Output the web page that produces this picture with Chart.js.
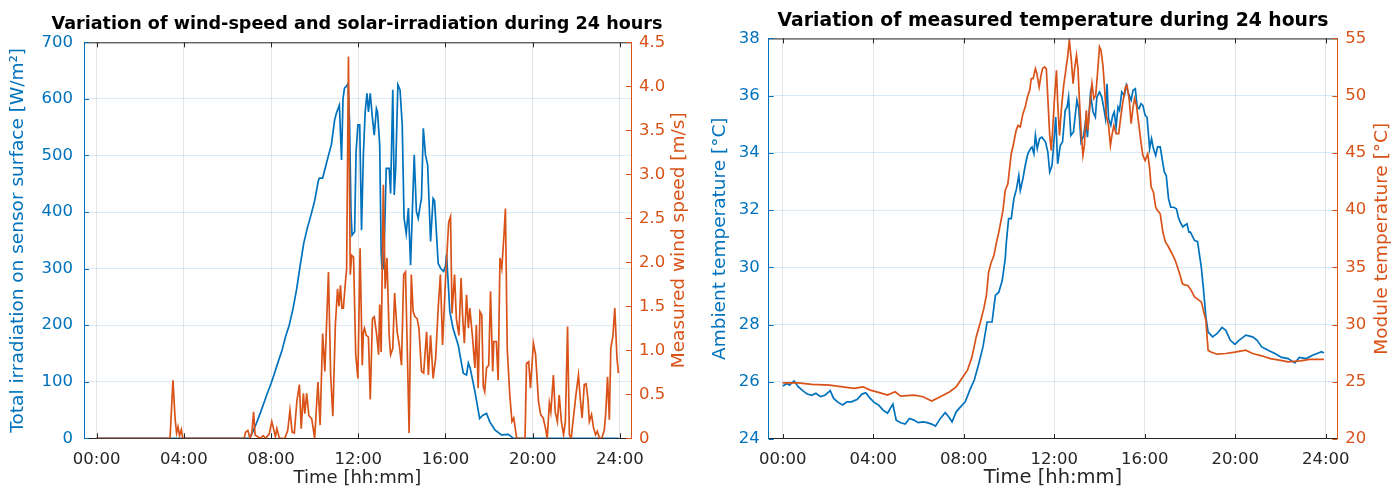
<!DOCTYPE html>
<html>
<head>
<meta charset="utf-8">
<title>24 hour measurements</title>
<script src="https://cdn.jsdelivr.net/npm/chart.js@4.4.1/dist/chart.umd.min.js"></script>
<style>
    html, body { margin: 0; padding: 0; background: #ffffff; }
    #wrap { position: relative; width: 1398px; height: 493px; overflow: hidden; }
    #windChart { position: absolute; left: 0; top: 0; }
    #tempChart { position: absolute; left: 708px; top: 0; }
</style>
</head>
<body>
<div id="wrap">
    <canvas id="windChart" width="714" height="493"></canvas>
    <canvas id="tempChart" width="690" height="493"></canvas>
</div>
<script>
// ===== DATA: IRRADIATION & WIND SPEED =====
const irrTimes = ['00:00','07:00','07:10','07:20','07:30','07:40','07:50','08:00','08:10','08:20',
    '08:30','08:40','08:50','09:00','09:10','09:20','09:30','09:40','09:50','10:00',
    '10:10','10:13','10:22','10:30','10:40','10:46','10:55','11:00','11:08','11:14',
    '11:18','11:22','11:27','11:32','11:36','11:40','11:43','11:50','11:54','11:59',
    '12:04','12:09','12:14','12:19','12:24','12:28','12:33','12:39','12:44','12:50',
    '12:53','12:59','13:03','13:05','13:10','13:17','13:25','13:29','13:35','13:39',
    '13:43','13:49','13:55','14:01','14:06','14:12','14:18','14:24','14:34','14:40',
    '14:45','14:50','14:54','14:59','15:05','15:11','15:19','15:26','15:30','15:40',
    '15:47','15:55','16:00','16:03','16:12','16:21','16:35','16:49','16:58','17:03',
    '17:08','17:21','17:34','17:43','17:53','18:02','18:16','18:34','18:53','19:07',
    '23:56'];
const irradiation = [0, 0, 12, 27, 44, 62, 80, 97, 116, 136,
    155, 180, 200, 228, 262, 305, 345, 372, 395, 420,
    455, 460, 460, 480, 505, 519, 563, 575, 589, 492,
    600, 619, 622, 627, 560, 400, 359, 365, 507, 554,
    554, 368, 500, 577, 610, 577, 610, 566, 536, 583,
    577, 519, 330, 300, 300, 477, 477, 433, 616, 430,
    477, 625, 616, 554, 389, 362, 407, 306, 501, 401,
    389, 410, 424, 548, 501, 483, 348, 424, 420, 309,
    300, 295, 305, 325, 224, 194, 165, 115, 112, 133,
    124, 83, 35, 41, 44, 29, 15, 6, 7, 0,
    0];

const windTimes = ['00:00','03:22','03:30','03:36','03:40','03:44','03:48','03:53','03:57','06:46',
    '06:50','06:56','07:02','07:07','07:12','07:16','07:22','07:30','07:38','07:45',
    '07:55','08:02','08:08','08:12','08:16','08:23','08:38','08:46','08:52','08:58',
    '09:04','09:11','09:18','09:23','09:29','09:33','09:38','09:44','09:52','10:00',
    '10:09','10:15','10:22','10:28','10:38','10:44','10:50','10:57','11:03','11:07',
    '11:11','11:15','11:19','11:24','11:28','11:33','11:38','11:42','11:47','11:53',
    '11:59','12:05','12:11','12:14','12:17','12:22','12:28','12:33','12:39','12:44',
    '12:51','12:56','12:59','13:03','13:09','13:14','13:19','13:25','13:29','13:35',
    '13:40','13:47','13:53','13:59','14:05','14:10','14:14','14:20','14:26','14:31',
    '14:36','14:42','14:47','14:54','15:00','15:08','15:13','15:19','15:26','15:33',
    '15:40','15:46','15:52','16:00','16:09','16:14','16:18','16:25','16:30','16:37',
    '16:43','16:47','16:52','16:58','17:03','17:07','17:14','17:21','17:25','17:30',
    '17:35','17:40','17:44','17:48','17:53','17:59','18:04','18:10','18:13','18:20',
    '18:25','18:30','18:35','18:41','18:45','18:50','18:57','19:03','19:08','19:16',
    '19:39','19:43','19:49','19:54','20:02','20:08','20:16','20:22','20:29','20:35',
    '20:40','20:46','20:50','20:57','21:02','21:08','21:13','21:19','21:25','21:30',
    '21:36','21:41','21:46','21:52','21:59','22:06','22:11','22:16','22:22','22:27',
    '22:32','22:36','22:42','22:47','22:53','22:58','23:04','23:10','23:17','23:21',
    '23:26','23:31','23:35','23:41','23:46','23:52','23:56'];
const windSpeed = [0, 0, 0.66, 0.22, 0.06, 0.13, 0.03, 0.10, 0, 0,
    0.07, 0.09, 0, 0.05, 0.30, 0.04, 0.02, 0, 0.03, 0,
    0.05, 0.19, 0.09, 0.02, 0.11, 0, 0, 0.09, 0.32, 0.07,
    0.06, 0.42, 0.61, 0.11, 0.51, 0.28, 0.51, 0.26, 0.22, 0,
    0.64, 0.15, 1.19, 0.76, 1.89, 0.72, 0.25, 1.29, 1.70, 1.50,
    1.74, 1.48, 1.48, 1.74, 1.93, 4.34, 1.86, 2.08, 2.06, 0.95,
    0.68, 2.16, 0.83, 1.20, 1.25, 1.17, 1.15, 0.44, 1.36, 1.38,
    1.17, 0.95, 1.52, 0.98, 2.88, 1.70, 2.05, 1.17, 0.95, 1.02,
    1.65, 1.21, 1.06, 0.83, 1.86, 1.89, 1.17, 0.06, 1.86, 1.44,
    1.38, 1.36, 1.25, 0.76, 0.74, 1.21, 0.72, 1.17, 0.68, 0.91,
    1.48, 1.86, 1.06, 1.80, 2.46, 2.52, 1.42, 1.86, 1.36, 1.17,
    1.82, 1.40, 1.08, 1.63, 1.25, 1.48, 1.17, 0.80, 1.29, 0.57,
    1.44, 1.40, 0.59, 0.53, 0.80, 0.83, 1.67, 0.76, 1.10, 1.10,
    0.66, 2.05, 1.93, 2.31, 2.61, 1.02, 0.49, 0.19, 0.23, 0,
    0, 0.85, 0.87, 0.57, 1.08, 0.95, 0.42, 0.27, 0.23, 0.12,
    0, 0.40, 0.30, 0.72, 0.30, 0.19, 0.49, 0.19, 0.04, 0.19,
    1.27, 0.04, 0, 0.23, 0.49, 0.72, 0.45, 0.23, 0.61, 0.62,
    0.45, 0.19, 0.27, 0.13, 0.04, 0.08, 0, 0, 0.09, 0.28,
    0.70, 0.21, 1.02, 1.17, 1.48, 0.91, 0.74];

// ===== DATA: AMBIENT & MODULE TEMPERATURE =====
const ambTimes = ['00:00','00:12','00:18','00:30','00:41','00:53','01:05','01:17','01:28','01:40',
    '01:52','02:06','02:15','02:27','02:39','02:50','03:02','03:17','03:30','03:40',
    '03:52','04:03','04:14','04:26','04:38','04:52','05:01','05:13','05:25','05:36',
    '05:48','05:59','06:12','06:23','06:35','06:45','06:58','07:11','07:20','07:29',
    '07:40','07:52','08:04','08:16','08:28','08:40','08:51','09:02','09:15','09:24',
    '09:33','09:42','09:50','09:53','09:59','10:06','10:13','10:20','10:26','10:30',
    '10:37','10:43','10:50','10:57','11:01','11:06','11:10','11:15','11:21','11:27',
    '11:37','11:43','11:48','11:54','11:59','12:04','12:09','12:16','12:22','12:29',
    '12:34','12:38','12:44','12:51','13:00','13:05','13:11','13:18','13:24','13:28',
    '13:36','13:43','13:49','13:53','14:00','14:06','14:11','14:16','14:20','14:24',
    '14:30','14:35','14:39','14:44','14:49','14:53','14:59','15:06','15:11','15:17',
    '15:24','15:29','15:35','15:40','15:45','15:50','15:55','16:01','16:06','16:13',
    '16:18','16:23','16:29','16:34','16:41','16:46','16:52','16:57','17:03','17:09',
    '17:17','17:24','17:29','17:34','17:41','17:46','17:52','17:57','18:01','18:12',
    '18:20','18:30','18:36','18:42','18:48','19:00','19:12','19:25','19:35','19:47',
    '19:59','20:10','20:28','20:46','20:58','21:10','21:27','21:45','22:03','22:20',
    '22:38','22:50','23:08','23:25','23:37','23:49','23:55'];
const ambientTemp = [25.85, 25.94, 25.88, 26.03, 25.83, 25.69, 25.57, 25.53, 25.60, 25.48,
    25.53, 25.69, 25.42, 25.28, 25.19, 25.30, 25.30, 25.38, 25.57, 25.62,
    25.42, 25.27, 25.19, 25.01, 24.90, 25.22, 24.66, 24.57, 24.52, 24.72,
    24.66, 24.57, 24.60, 24.57, 24.52, 24.45, 24.72, 24.92, 24.78, 24.60,
    24.95, 25.13, 25.30, 25.71, 26.06, 26.64, 27.22, 28.09, 28.09, 29.02,
    29.13, 29.54, 30.30, 30.88, 31.70, 31.70, 32.40, 32.75, 33.21, 32.69,
    33.10, 33.56, 33.97, 34.15, 34.21, 33.97, 34.61, 34.15, 34.50, 34.55,
    34.38, 34.03, 33.33, 33.56, 34.38, 35.25, 33.62, 34.26, 34.38, 35.49,
    35.60, 35.95, 34.61, 34.73, 35.84, 35.55, 34.38, 34.61, 35.20, 34.55,
    36.07, 35.43, 35.25, 35.95, 36.13, 35.95, 35.60, 35.20, 36.42, 35.20,
    34.96, 35.31, 35.43, 34.90, 35.60, 35.49, 36.13, 36.01, 36.36, 36.07,
    35.84, 36.19, 36.24, 35.60, 35.55, 35.72, 35.66, 35.31, 35.25, 34.15,
    34.50, 34.15, 33.91, 34.21, 34.21, 33.80, 33.33, 33.21, 32.40, 32.10,
    32.10, 32.05, 31.76, 31.58, 31.41, 31.47, 31.52, 31.23, 31.23, 30.94,
    30.90, 30.00, 29.20, 28.27, 27.74, 27.57, 27.69, 27.90, 27.80, 27.45,
    27.31, 27.45, 27.63, 27.57, 27.45, 27.22, 27.10, 26.99, 26.85, 26.81,
    26.66, 26.85, 26.81, 26.93, 26.99, 27.05, 27.01];

const modTimes = ['00:00','00:41','01:17','02:04','02:39','03:09','03:33','03:52','04:14','04:38',
    '04:58','05:13','05:48','06:12','06:35','06:58','07:23','07:40','07:58','08:10',
    '08:22','08:33','08:44','08:53','09:00','09:06','09:13','09:20','09:27','09:33',
    '09:39','09:44','09:50','09:57','10:02','10:06','10:12','10:19','10:24','10:30',
    '10:37','10:43','10:49','10:55','10:59','11:04','11:10','11:14','11:20','11:25',
    '11:29','11:34','11:39','11:44','11:48','11:52','11:56','12:00','12:06','12:09',
    '12:14','12:19','12:25','12:30','12:36','12:40','12:45','12:50','12:54','12:59',
    '13:03','13:07','13:12','13:16','13:20','13:25','13:29','13:34','13:40','13:45',
    '13:50','13:55','14:00','14:04','14:09','14:13','14:18','14:24','14:29','14:33',
    '14:38','14:44','14:51','14:57','15:02','15:09','15:13','15:19','15:24','15:29',
    '15:33','15:38','15:44','15:50','15:55','16:01','16:08','16:13','16:17','16:23',
    '16:29','16:34','16:41','16:48','16:55','17:01','17:08','17:15','17:21','17:27',
    '17:34','17:40','17:46','17:54','18:01','18:12','18:30','18:42','18:48','18:54',
    '19:12','19:35','19:59','20:28','20:46','21:10','21:33','21:57','22:20','22:53',
    '23:17','23:55'];
const moduleTemp = [24.91, 24.91, 24.77, 24.71, 24.56, 24.42, 24.56, 24.27, 24.07, 23.84,
    24.13, 23.75, 23.84, 23.69, 23.31, 23.69, 24.13, 24.56, 25.44, 26.02,
    27.18, 28.92, 30.20, 31.37, 32.54, 34.58, 35.45, 36.03, 37.20, 38.08,
    39.10, 39.97, 41.72, 42.30, 43.76, 44.93, 45.80, 46.97, 47.40, 47.26,
    48.43, 49.00, 49.88, 50.47, 51.49, 51.49, 52.36, 51.92, 50.76, 51.78,
    52.36, 52.51, 52.36, 49.15, 46.53, 45.22, 47.11, 49.45, 52.22, 49.45,
    46.53, 48.86, 50.90, 52.07, 53.53, 54.84, 53.24, 51.05, 52.36, 53.53,
    52.36, 49.45, 46.53, 44.78, 45.66, 48.72, 46.97, 49.01, 51.05, 49.74,
    50.03, 52.07, 54.26, 53.97, 52.65, 50.90, 48.28, 47.40, 45.66, 46.53,
    47.40, 46.68, 46.68, 48.28, 49.45, 50.76, 50.90, 49.59, 47.55, 49.01,
    49.74, 49.15, 47.55, 45.95, 44.78, 44.34, 44.93, 43.62, 42.01, 41.57,
    40.26, 39.97, 39.68, 38.08, 37.20, 36.91, 36.47, 36.03, 35.60, 35.01,
    34.29, 33.56, 33.47, 33.41, 33.12, 32.41, 31.98, 30.38, 27.76, 27.62,
    27.41, 27.47, 27.59, 27.76, 27.47, 27.27, 27.03, 26.89, 26.74, 26.83,
    26.95, 26.95];

// x axis ticks, in hours
const hourTicks = [0, 4, 8, 12, 16, 20, 24];

// ===== STYLE =====
const FONT = "'DejaVu Sans', sans-serif";
const BLUE = '#0072BD';
const ORANGE = '#D95319';
const INK = '#262626';

// ===== HELPERS =====
function toHours(t) {
    const [h, m] = t.split(':').map(Number);
    return h + m / 60;
}

function toPoints(times, values) {
    return times.map((t, i) => ({ x: toHours(t), y: values[i] }));
}

function hourLabel(v) {
    return String(v).padStart(2, '0') + ':00';
}

// box top edge, inward tick marks and the right-hand axis label (reads upward)
const axesFrame = {
    id: 'axesFrame',
    afterDatasetsDraw(chart, args, opts) {
        const { ctx, chartArea: a, scales } = chart;
        const len = 5;
        ctx.save();
        ctx.lineWidth = 1;

        ctx.strokeStyle = INK;
        ctx.beginPath();
        ctx.moveTo(a.left, a.top + 0.5);
        ctx.lineTo(a.right, a.top + 0.5);
        scales.x.ticks.forEach((t, i) => {
            const px = Math.round(scales.x.getPixelForTick(i)) + 0.5;
            ctx.moveTo(px, a.bottom);
            ctx.lineTo(px, a.bottom - len);
            ctx.moveTo(px, a.top);
            ctx.lineTo(px, a.top + len);
        });
        ctx.stroke();

        ctx.strokeStyle = BLUE;
        ctx.beginPath();
        scales.y.ticks.forEach((t, i) => {
            const py = Math.round(scales.y.getPixelForTick(i)) + 0.5;
            ctx.moveTo(a.left, py);
            ctx.lineTo(a.left + len, py);
        });
        ctx.stroke();

        ctx.strokeStyle = ORANGE;
        ctx.beginPath();
        scales.y1.ticks.forEach((t, i) => {
            const py = Math.round(scales.y1.getPixelForTick(i)) + 0.5;
            ctx.moveTo(a.right, py);
            ctx.lineTo(a.right - len, py);
        });
        ctx.stroke();

        ctx.fillStyle = ORANGE;
        ctx.font = opts.size + 'px ' + FONT;
        ctx.textAlign = 'center';
        ctx.textBaseline = 'middle';
        ctx.translate(opts.x, (a.top + a.bottom) / 2);
        ctx.rotate(-Math.PI / 2);
        ctx.fillText(opts.text, 0, 0);
        ctx.restore();
    }
};

// shared scale setup; sizes fix the plot box inside each canvas
function buildOptions(cfg) {
    return {
        responsive: false,
        animation: false,
        events: [],
        layout: { padding: 0 },
        plugins: {
            legend: { display: false },
            tooltip: { enabled: false },
            title: {
                display: true,
                text: cfg.title,
                color: '#000000',
                font: { family: FONT, size: cfg.titleSize, weight: 'bold' },
                padding: { top: cfg.titleTop, bottom: cfg.titleBottom }
            },
            axesFrame: cfg.rightLabel
        },
        scales: {
            x: {
                type: 'linear',
                min: cfg.xMin,
                max: cfg.xMax,
                afterBuildTicks: s => { s.ticks = hourTicks.map(v => ({ value: v })); },
                afterFit: s => { s.height = cfg.xHeight; },
                ticks: {
                    color: INK,
                    font: { family: FONT, size: 16.5 },
                    padding: cfg.xTickPad,
                    maxRotation: 0,
                    callback: v => hourLabel(v)
                },
                grid: { color: 'rgba(38,38,38,0.12)', lineWidth: 1, drawTicks: false },
                border: { color: INK, width: 1 },
                title: {
                    display: true,
                    text: 'Time [hh:mm]',
                    color: INK,
                    font: { family: FONT, size: cfg.xLabelSize },
                    padding: { top: 0, bottom: cfg.xTitlePad }
                }
            },
            y: {
                position: 'left',
                min: cfg.yMin,
                max: cfg.yMax,
                afterFit: s => { s.width = cfg.yWidth; },
                ticks: {
                    stepSize: cfg.yStep,
                    color: BLUE,
                    font: { family: FONT, size: 16.5 },
                    padding: cfg.yTickPad
                },
                grid: { color: 'rgba(0,114,189,0.14)', lineWidth: 1, drawTicks: false },
                border: { color: BLUE, width: 1 },
                title: {
                    display: true,
                    text: cfg.yTitle,
                    color: BLUE,
                    font: { family: FONT, size: cfg.yLabelSize },
                    padding: { top: cfg.yTitlePad, bottom: 0 }
                }
            },
            y1: {
                position: 'right',
                min: cfg.y1Min,
                max: cfg.y1Max,
                afterFit: s => { s.width = cfg.y1Width; },
                ticks: {
                    stepSize: cfg.y1Step,
                    color: ORANGE,
                    font: { family: FONT, size: 16.5 },
                    padding: 8
                },
                grid: { display: false, drawTicks: false },
                border: { color: ORANGE, width: 1 }
            }
        }
    };
}

function lineSet(points, color, axis, order) {
    return {
        data: points,
        yAxisID: axis,
        borderColor: color,
        borderWidth: 1.7,
        pointRadius: 0,
        tension: 0,
        fill: false,
        order: order
    };
}

// ===== WIND SPEED & SOLAR IRRADIATION =====
new Chart(document.getElementById('windChart'), {
    type: 'line',
    data: {
        datasets: [
            lineSet(toPoints(windTimes, windSpeed), ORANGE, 'y1', 0),
            lineSet(toPoints(irrTimes, irradiation), BLUE, 'y', 1)
        ]
    },
    options: buildOptions({
        title: 'Variation of wind-speed and solar-irradiation during 24 hours',
        titleSize: 17.6, titleTop: 14, titleBottom: 7.2,
        xMin: -0.58, xMax: 24.51, xHeight: 54.7, xTickPad: 11.8, xTitlePad: 4.2,
        xLabelSize: 18, yLabelSize: 18.5,
        yMin: 0, yMax: 700, yStep: 100, yWidth: 84, yTickPad: 11, yTitlePad: 7.5,
        yTitle: 'Total irradiation on sensor surface [W/m²]',
        y1Min: 0, y1Max: 4.5, y1Step: 0.5, y1Width: 83,
        rightLabel: { text: 'Measured wind speed [m/s]', x: 679.5, size: 18.5 }
    }),
    plugins: [axesFrame]
});

// ===== AMBIENT & MODULE TEMPERATURE =====
new Chart(document.getElementById('tempChart'), {
    type: 'line',
    data: {
        datasets: [
            lineSet(toPoints(modTimes, moduleTemp), ORANGE, 'y1', 0),
            lineSet(toPoints(ambTimes, ambientTemp), BLUE, 'y', 1)
        ]
    },
    options: buildOptions({
        title: 'Variation of measured temperature during 24 hours',
        titleSize: 18.8, titleTop: 9.5, titleBottom: 6.4,
        xMin: -0.62, xMax: 24.51, xHeight: 54, xTickPad: 11.1, xTitlePad: 3.5,
        xLabelSize: 19.5, yLabelSize: 18.5,
        yMin: 24, yMax: 38, yStep: 2, yWidth: 60.7, yTickPad: 9, yTitlePad: 1.2,
        yTitle: 'Ambient temperature [°C]',
        y1Min: 20, y1Max: 55, y1Step: 5, y1Width: 60.7,
        rightLabel: { text: 'Module temperature [°C]', x: 674, size: 18.5 }
    }),
    plugins: [axesFrame]
});
</script>
</body>
</html>
